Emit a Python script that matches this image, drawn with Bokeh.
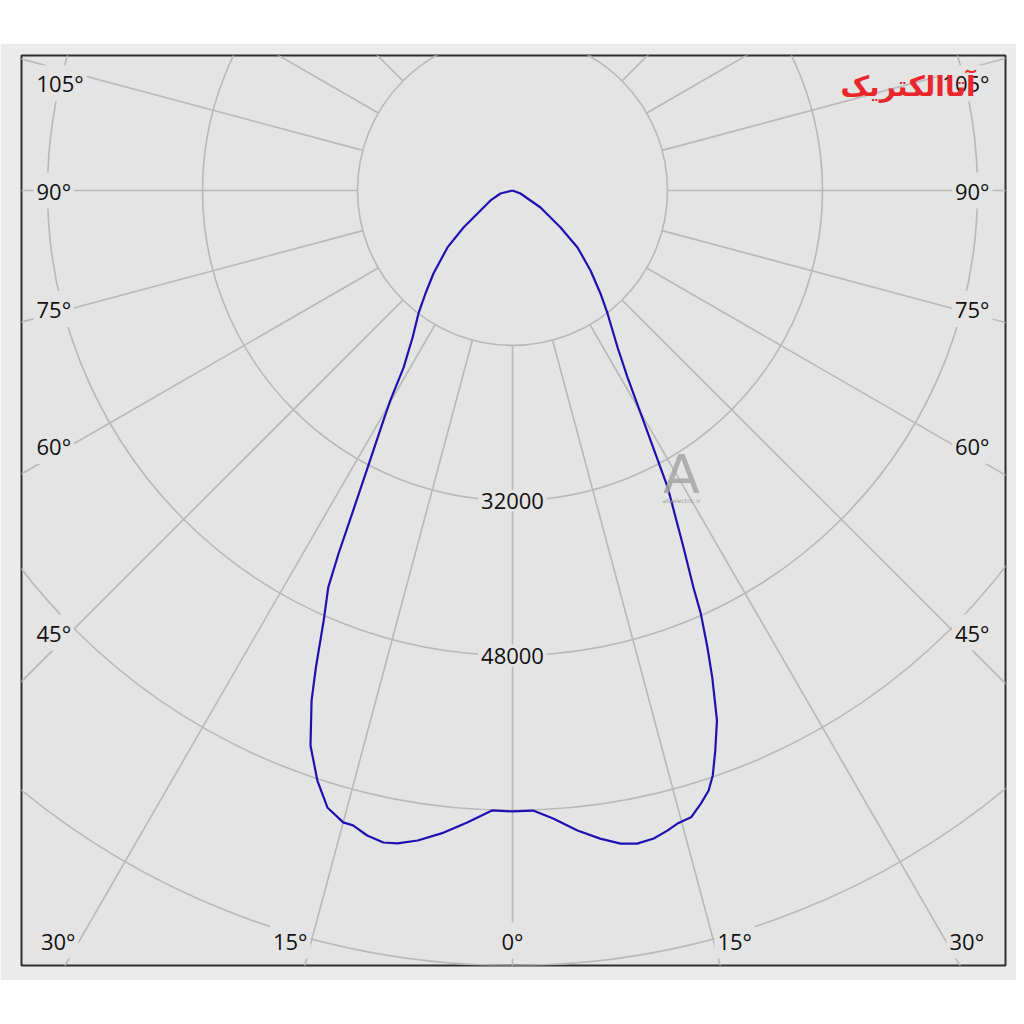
import numpy as np
from bokeh.plotting import figure
from bokeh.models import Range1d, Label, Spacer
from bokeh.layouts import column
from bokeh.embed import file_html
from bokeh.resources import INLINE

# ---------------- data ----------------
RING_VALUES = [16000, 32000, 48000, 64000, 80000]
RING_LABEL_VALUES = [32000, 48000]
RING_LABELS = ["32000", "48000"]
GRID_ANGLES = list(range(0, 360, 15))
SIDE_ANGLES = [45, 60, 75, 90, 105]
SIDE_LABELS = ["45°", "60°", "75°", "90°", "105°"]
BOTTOM_ANGLES = [30, 15]
BOTTOM_LABELS = ["30°", "15°"]
ZERO_LABEL = "0°"

# luminous intensity (cd) vs. angle from nadir (deg), left half (C180)
LEFT_DEG = [0, 1.9, 4.1, 6.1, 8.3, 10.0, 11.2, 12.7, 14.1, 15.0, 16.7, 18.3,
            20.0, 21.5, 22.4, 23.7, 24.9, 25.6, 26.4, 27.6, 29.3, 30.2, 31.6,
            34.2, 37.4, 40.2, 43.6, 48.8, 52.9, 65.6, 76.0, 90.0]
LEFT_CD = [64100, 64030, 65400, 66660, 67810, 68440, 68610, 68250, 67570,
           67530, 66490, 64150, 60970, 56590, 53270, 48490, 45170, 41550,
           37210, 32280, 27220, 25070, 21460, 18350, 15980, 13920, 11830,
           8920, 6340, 2490, 1280, 0]
# right half (C0)
RIGHT_DEG = [0, 1.9, 3.7, 5.8, 7.7, 9.4, 10.8, 12.3, 13.6, 14.6, 15.9, 17.1,
             18.1, 18.9, 19.9, 21.1, 22.3, 23.1, 24.0, 24.5, 25.6, 27.6, 29.7,
             31.6, 33.8, 37.7, 40.5, 44.3, 48.8, 52.4, 58.7, 69.4, 90.0]
RIGHT_CD = [64100, 64040, 64970, 66410, 67510, 68330, 68640, 68460, 67980,
            67530, 67280, 66190, 65160, 63820, 61490, 58630, 54350, 51290,
            47780, 45040, 40860, 34580, 27090, 22660, 19500, 16040, 13980,
            11530, 8920, 6260, 3380, 880, 0]

LOGO_TEXT = "آتاالکتریک"
WATERMARK = "A"
WATERMARK_SUB = "ataelectric.ir"

# ---------------- style / layout ----------------
BG = "#e4e4e4"
BAND = "#ebebeb"
GRID = "#b8b8b8"
CURVE = "#2010b0"
FONT = "Open Sans"

K = 16000 / 155.0            # cd per pixel
FW, FH = 984, 910            # frame size (px)
CX, CY = 491, 135            # pole position inside the frame (px)
PAGE_CX, PAGE_CY = 512, 190  # pole position on the page (px)


def page(px, py):
    return (px - PAGE_CX) * K, -(py - PAGE_CY) * K


p = figure(width=1016, height=937, output_backend="svg", toolbar_location=None,
           x_axis_type=None, y_axis_type=None, title=None,
           x_range=Range1d(-CX * K, (FW - CX) * K),
           y_range=Range1d(-(FH - CY) * K, CY * K),
           min_border_left=21, min_border_right=11,
           min_border_top=12, min_border_bottom=15)
p.background_fill_color = BG
p.border_fill_color = BAND
p.outline_line_color = "#2e2e2e"
p.outline_line_width = 2
p.xgrid.visible = False
p.ygrid.visible = False

# rings
p.circle(x=[0] * len(RING_VALUES), y=[0] * len(RING_VALUES), radius=RING_VALUES,
         fill_color=None, line_color=GRID, line_width=1.6)

# radial rays (from inner ring outward)
a = np.radians(GRID_ANGLES)
r_in = RING_VALUES[0]
r_out = 200000
p.segment(x0=r_in * np.sin(a), y0=-r_in * np.cos(a),
          x1=r_out * np.sin(a), y1=-r_out * np.cos(a),
          line_color=GRID, line_width=1.6)

# curve
ld = np.radians(LEFT_DEG[::-1])
lc = np.array(LEFT_CD[::-1], dtype=float)
rd = np.radians(RIGHT_DEG)
rc = np.array(RIGHT_CD, dtype=float)
xs = np.concatenate([-lc * np.sin(ld), rc * np.sin(rd)])
ys = np.concatenate([-lc * np.cos(ld), -rc * np.cos(rd)])
p.line(xs, ys, line_color=CURVE, line_width=2.2, line_join="round")


def add_label(x, y, text, align="center", size="22px"):
    p.add_layout(Label(x=x, y=y, text=text, text_align=align,
                       text_baseline="middle", text_font=FONT,
                       text_font_size=size, text_color="#111111",
                       background_fill_color=BG, padding=3))


# ring value labels
for v, t in zip(RING_LABEL_VALUES, RING_LABELS):
    add_label(0, -v, t)

# side angle labels
for ang, t in zip(SIDE_ANGLES, SIDE_LABELS):
    th = np.radians(ang)
    side_ref = (442 if ang <= 90 else 400) * K
    y = -side_ref * np.cos(th) / np.sin(th)
    add_label(-479 * K, y, t, align="left")
    add_label(480 * K, y, t, align="right")

# bottom angle labels
bottom_ref = 750 * K
for ang, t in zip(BOTTOM_ANGLES, BOTTOM_LABELS):
    th = np.radians(ang)
    x = bottom_ref * np.tan(th)
    add_label(-x - 1 * K, -bottom_ref, t, align="right")
    add_label(x + 1 * K, -bottom_ref, t, align="left")
add_label(0, -bottom_ref, ZERO_LABEL)

# watermark
wx, wy = page(681, 474)
p.add_layout(Label(x=wx, y=wy, text=WATERMARK, text_align="center",
                   text_baseline="middle", text_font="DejaVu Sans",
                   text_font_size="54px", text_color="#a4a4a4",
                   text_alpha=0.85))
sx, sy = page(681, 500)
p.add_layout(Label(x=sx, y=sy, text=WATERMARK_SUB, text_align="center",
                   text_baseline="middle", text_font="DejaVu Sans",
                   text_font_size="6px", text_color="#9a9a9a"))

# logo
lx, ly = page(975, 86)
p.add_layout(Label(x=lx, y=ly, text=LOGO_TEXT, text_align="right",
                   text_baseline="middle", text_font="DejaVu Sans",
                   text_font_style="bold", text_font_size="28px",
                   text_color="#e8262c"))

layout = column(Spacer(width=1016, height=43), p)
open("out.html", "w").write(file_html(layout, INLINE))
